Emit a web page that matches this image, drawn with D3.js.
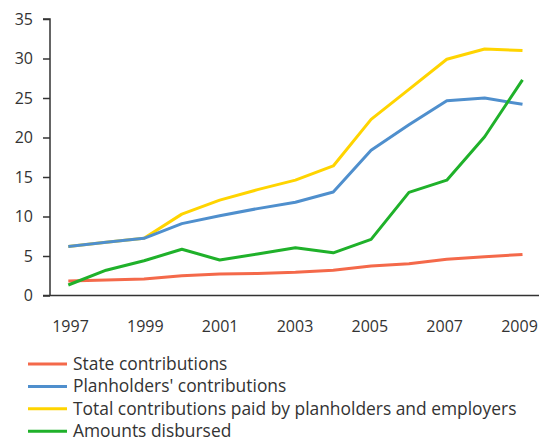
<!DOCTYPE html>
<html><head><meta charset="utf-8">
<script src="https://cdn.jsdelivr.net/npm/d3@7"></script>
<style>body{margin:0;background:#fff}svg{display:block}text{font-family:"Open Sans",sans-serif;fill:#333}</style>
</head><body><svg id="c" width="539" height="441"></svg>
<script>
const years = [1997,1998,1999,2000,2001,2002,2003,2004,2005,2006,2007,2008,2009];
const state = [1.85,1.95,2.1,2.5,2.72,2.8,2.93,3.2,3.73,4.03,4.6,4.9,5.2];
const planholders = [6.2,6.75,7.24,9.1,10.1,11.0,11.8,13.1,18.4,21.6,24.66,25.0,24.2];
const total = [6.2,6.75,7.24,10.3,12.07,13.4,14.6,16.4,22.3,26.1,29.9,31.2,31.0];
const disbursed = [1.33,3.2,4.4,5.85,4.5,5.25,6.05,5.4,7.1,13.06,14.6,20.1,27.3];
const yTicks = [0,5,10,15,20,25,30,35];
const xTicks = [1997,1999,2001,2003,2005,2007,2009];
const seriesNames = ["State contributions","Planholders' contributions","Total contributions paid by planholders and employers","Amounts disbursed"];
const seriesColors = ["#f4694a","#4f8fcd","#ffd400","#1fb12a"];
const seriesData = [state, planholders, total, disbursed];

const svg = d3.select("#c");
const x = d3.scaleLinear().domain([1997,2009]).range([68.3,522.5]);
const xLab = d3.scaleLinear().domain([1997,2009]).range([70,519]);
const y = d3.scaleLinear().domain([0,35]).range([295.5,19]);

// y axis
const ya = svg.append("g").attr("transform","translate(50,0)")
  .call(d3.axisLeft(y).tickValues(yTicks).tickSize(7).tickPadding(10).tickFormat(d3.format("d")));
ya.select(".domain").attr("stroke","#333").attr("stroke-width",1.5).attr("d","M-7,19H0V295.5");
ya.selectAll(".tick line").attr("stroke","#333").attr("stroke-width",1.5);
ya.selectAll(".tick text").style("font-size","16px").attr("fill","#333");

// x axis
const xa = svg.append("g").attr("transform","translate(0,295.5)")
  .call(d3.axisBottom(xLab).tickValues(xTicks).tickSize(0).tickPadding(25).tickFormat(d3.format("d")));
xa.select(".domain").attr("stroke","#333").attr("stroke-width",1.5).attr("d","M43,0H539");
xa.selectAll(".tick text").style("font-size","16px").attr("fill","#333");

const line = d3.line().x((d,i)=>x(years[i])).y(d=>y(d));
const order = [0,2,1,3];
order.forEach(k=>{
  svg.append("path").datum(seriesData[k]).attr("d",line)
    .attr("fill","none").attr("stroke",seriesColors[k]).attr("stroke-width",3).attr("stroke-linejoin","round");
});

// legend
const lg = svg.append("g");
seriesNames.forEach((n,i)=>{
  const yy = 364 + i*22.4;
  lg.append("line").attr("x1",28).attr("x2",67).attr("y1",yy).attr("y2",yy)
    .attr("stroke",seriesColors[i]).attr("stroke-width",3);
  lg.append("text").attr("x",73).attr("y",yy).attr("dy","0.35em").style("font-size","17.4px").text(n);
});
</script></body></html>
